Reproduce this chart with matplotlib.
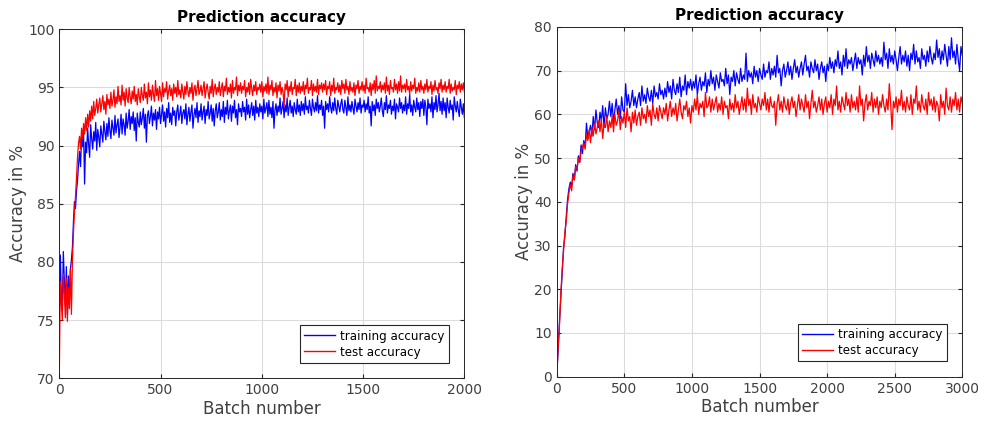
import numpy as np
import matplotlib
matplotlib.use("Agg")
import matplotlib.pyplot as plt

# left run: one value every 5 batches (0..2000)
left_step = 5
left_train = [
    75.0, 80.6, 77.2, 75.8, 80.9, 78.4, 76.3, 79.6, 75.5, 78.8, 76.6, 79.4, 80.2, 81.3, 83.5, 85.2, 84.6, 86.1, 87.0, 88.4,
    89.5, 88.2, 90.8, 89.9, 91.1, 86.7, 90.3, 89.4, 91.5, 90.1, 89.0, 91.8, 90.6, 89.7, 91.2, 90.4, 92.0, 89.6, 91.4, 90.7,
    89.9, 91.7, 91.0, 90.3, 92.1, 91.2, 90.5, 91.9, 90.8, 92.4, 91.3, 90.6, 92.2, 91.5, 90.9, 92.6, 91.1, 91.8, 92.3, 90.7,
    91.6, 92.7, 91.0, 92.3, 91.8, 90.9, 92.8, 91.5, 92.1, 93.1, 91.4, 92.5, 91.9, 92.9, 91.3, 92.4, 90.4, 92.8, 92.0, 91.6,
    92.9, 91.8, 92.4, 93.2, 91.5, 92.7, 90.3, 92.6, 93.0, 91.9, 92.5, 93.4, 91.7, 92.8, 92.2, 93.1, 91.4, 92.9, 92.3, 93.3,
    91.9, 92.7, 93.5, 92.1, 92.9, 91.6, 93.2, 92.4, 93.7, 92.0, 92.8, 91.8, 93.3, 92.6, 93.0, 91.7, 92.9, 93.5, 92.2, 92.7,
    93.4, 91.9, 92.8, 93.1, 92.3, 93.6, 91.8, 92.7, 93.3, 92.1, 92.9, 93.5, 91.5, 92.6, 93.2, 92.4, 93.7, 92.0, 93.0, 92.5,
    93.6, 92.2, 92.9, 93.4, 91.9, 93.1, 92.6, 93.8, 92.3, 92.8, 93.5, 92.1, 93.2, 91.7, 93.0, 93.6, 92.4, 92.9, 93.7, 92.2,
    93.1, 92.5, 93.8, 92.0, 93.3, 92.7, 93.9, 92.3, 93.0, 93.5, 92.1, 93.4, 92.8, 93.9, 92.4, 93.1, 91.8, 93.6, 92.9, 93.2,
    92.5, 93.8, 92.9, 93.3, 92.2, 94.0, 92.7, 93.5, 92.4, 93.1, 93.7, 92.6, 93.4, 92.2, 93.9, 92.8, 93.3, 92.5, 93.6, 92.9,
    93.4, 92.3, 94.0, 92.8, 93.2, 93.7, 92.5, 93.9, 92.7, 93.3, 92.4, 93.8, 91.5, 93.1, 93.6, 92.6, 93.4, 92.9, 94.1, 92.7,
    93.2, 93.8, 92.4, 93.5, 92.9, 94.1, 92.6, 93.3, 93.9, 92.8, 93.4, 92.5, 93.7, 93.1, 92.7, 94.0, 92.9, 93.5, 92.6, 93.8,
    93.0, 93.6, 92.7, 94.2, 93.1, 93.4, 92.8, 93.9, 93.2, 92.6, 94.0, 93.3, 92.9, 93.7, 93.0, 94.3, 92.8, 93.5, 93.1, 93.9,
    92.6, 93.4, 91.5, 93.8, 93.1, 93.6, 92.9, 94.2, 93.3, 92.8, 93.7, 93.0, 94.1, 93.2, 92.7, 93.9, 93.4, 92.9, 93.6, 94.0,
    93.1, 92.8, 93.9, 93.3, 92.6, 94.2, 93.0, 93.5, 92.9, 93.8, 93.2, 92.7, 94.0, 93.4, 92.9, 93.7, 93.1, 94.1, 92.8, 93.5,
    93.3, 93.9, 92.9, 93.6, 93.1, 94.2, 92.8, 93.4, 91.7, 93.8, 93.0, 93.5, 92.6, 94.0, 93.2, 93.7, 92.9, 93.4, 94.1, 93.0,
    92.5, 93.7, 93.1, 94.3, 92.8, 93.5, 93.2, 93.9, 92.7, 93.4, 93.0, 94.0, 92.3, 93.6, 93.3, 92.9, 94.1, 93.2, 93.7, 92.8,
    93.5, 93.0, 94.2, 92.7, 93.6, 93.2, 94.4, 92.9, 93.5, 92.6, 93.9, 93.3, 92.9, 94.1, 93.1, 93.7, 92.5, 93.8, 93.2, 94.0,
    92.6, 93.9, 93.3, 91.8, 94.0, 93.2, 93.6, 92.9, 94.2, 92.4, 93.7, 93.1, 94.3, 92.9, 93.5, 94.5, 93.0, 93.8, 92.7, 94.1,
    93.0, 93.7, 92.4, 94.1, 93.3, 92.8, 93.9, 93.1, 93.5, 92.2, 94.2, 93.4, 92.9, 93.8, 93.1, 92.5, 94.0, 93.3, 92.7, 93.6,
    92.4,
]
left_test = [
    70.0, 78.3, 76.5, 75.0, 79.0, 77.3, 75.2, 78.6, 74.9, 77.8, 76.0, 79.4, 75.5, 80.2, 82.5, 84.3, 85.6, 87.2, 89.0, 90.2,
    90.8, 89.7, 91.5, 90.6, 91.9, 91.0, 92.4, 91.3, 92.7, 91.6, 93.0, 92.1, 93.4, 92.3, 93.8, 92.6, 93.2, 94.0, 92.8, 93.5,
    94.1, 92.9, 93.6, 94.3, 93.1, 93.8, 92.7, 94.4, 93.5, 94.0, 93.2, 94.6, 93.4, 93.9, 94.8, 93.3, 94.2, 93.6, 95.1, 93.8,
    94.3, 93.5, 95.2, 93.9, 94.6, 93.4, 94.9, 94.1, 93.7, 95.0, 94.2, 93.6, 94.7, 94.0, 95.1, 93.8, 94.4, 93.5, 94.9, 94.2,
    93.7, 95.0, 94.3, 93.9, 95.3, 94.1, 94.6, 93.6, 95.4, 94.2, 94.8, 93.9, 95.2, 94.4, 93.8, 95.6, 94.3, 94.9, 93.9, 95.1,
    94.5, 93.8, 95.4, 94.2, 94.9, 94.6, 95.5, 94.0, 94.7, 95.2, 94.3, 94.9, 93.9, 95.3, 94.5, 95.0, 94.2, 95.6, 94.4, 94.8,
    94.1, 95.3, 94.6, 94.0, 95.1, 94.4, 95.5, 94.7, 94.2, 95.0, 94.5, 95.4, 93.9, 94.8, 95.2, 94.3, 94.9, 95.6, 94.4, 94.7,
    95.2, 94.3, 94.9, 95.5, 94.1, 94.8, 95.3, 94.6, 94.0, 95.1, 94.5, 95.7, 94.2, 94.9, 95.3, 94.4, 95.0, 94.6, 95.5, 94.3,
    94.9, 95.4, 94.2, 95.1, 94.7, 95.8, 94.4, 95.0, 94.6, 95.3, 94.1, 95.6, 94.5, 95.0, 94.8, 95.9, 94.3, 95.2, 94.7, 95.4,
    94.5, 95.1, 94.8, 95.6, 94.2, 95.0, 94.6, 95.4, 94.4, 95.7, 94.9, 94.3, 95.2, 94.7, 95.5, 94.4, 95.0, 94.8, 95.3, 94.6,
    95.5, 94.2, 95.1, 94.7, 95.3, 94.5, 95.9, 94.4, 95.2, 94.8, 95.6, 94.3, 95.0, 94.6, 95.4, 94.1, 95.2, 94.7, 95.5, 94.4,
    95.0, 94.6, 93.4, 95.3, 94.8, 95.6, 94.2, 95.1, 94.7, 95.5, 94.4, 95.0, 94.9, 95.7, 94.3, 95.2, 94.6, 95.4, 94.5, 95.1,
    94.7, 95.5, 94.4, 95.2, 94.9, 95.8, 94.5, 95.0, 94.8, 95.6, 94.3, 95.3, 94.7, 95.1, 94.6, 95.7, 94.4, 95.2, 94.9, 95.4,
    94.6, 95.3, 94.8, 95.6, 94.4, 95.1, 94.9, 95.5, 94.3, 95.2, 94.7, 95.8, 94.5, 95.0, 94.8, 95.4, 94.6, 95.2, 94.4, 95.6,
    94.9, 95.3, 94.5, 95.7, 94.8, 95.1, 94.4, 95.5, 94.7, 95.0, 94.6, 95.4, 94.3, 95.2, 94.9, 95.6, 94.5, 95.1, 94.8, 95.5,
    94.7, 95.2, 94.5, 95.8, 94.9, 95.0, 94.6, 95.4, 94.3, 95.3, 94.8, 95.6, 94.5, 96.0, 94.7, 95.1, 94.9, 95.5, 94.6, 95.2,
    94.8, 95.4, 94.5, 95.9, 94.7, 95.2, 94.4, 95.6, 94.9, 95.0, 94.6, 95.7, 94.8, 95.3, 94.5, 95.5, 94.7, 96.0, 94.6, 95.2,
    94.9, 95.3, 94.6, 95.7, 94.8, 95.1, 94.4, 95.5, 94.7, 95.2, 94.9, 95.8, 94.5, 95.0, 94.7, 95.4, 94.6, 95.6, 94.8, 95.1,
    94.5, 95.3, 94.8, 95.7, 94.6, 95.1, 94.9, 95.5, 94.4, 95.2, 94.7, 95.6, 94.8, 95.0, 94.5, 95.4, 94.9, 95.7, 94.6, 95.2,
    94.8, 95.5, 94.6, 95.1, 94.9, 95.7, 94.5, 95.3, 94.7, 95.0, 94.8, 95.6, 94.4, 95.2, 94.9, 95.5, 94.6, 95.3, 94.8, 95.4,
    94.6,
]

# right run: one value every 10 batches (0..3000)
right_step = 10
right_train = [
    0.0, 6.0, 12.5, 18.0, 23.5, 29.5, 32.0, 36.5, 40.5, 43.0, 44.5, 43.5, 46.5, 45.0, 48.5, 47.0, 50.5, 49.0, 53.0, 51.0,
    54.0, 52.5, 58.0, 54.5, 56.0, 57.5, 55.0, 59.5, 56.5, 61.0, 58.0, 57.0, 60.5, 58.5, 62.0, 57.0, 61.5, 59.0, 60.0, 63.0,
    59.5, 62.5, 58.0, 61.0, 63.5, 60.0, 62.0, 59.0, 64.0, 61.0, 60.5, 67.0, 62.0, 64.5, 61.5, 63.0, 65.5, 62.0, 64.0, 61.5,
    63.5, 65.0, 62.0, 66.5, 63.0, 64.5, 62.5, 66.0, 64.0, 63.0, 65.5, 62.5, 66.5, 64.0, 65.0, 63.5, 67.0, 64.5, 65.5, 63.5,
    66.0, 64.0, 67.5, 65.0, 66.5, 63.5, 68.0, 65.5, 64.5, 67.0, 65.0, 68.5, 64.0, 66.5, 65.5, 69.0, 64.5, 67.5, 66.0, 68.0,
    65.5, 67.5, 66.0, 69.0, 64.5, 67.0, 68.5, 65.5, 67.5, 66.5, 69.5, 65.0, 68.0, 66.5, 70.0, 67.0, 68.5, 65.5, 69.0, 67.5,
    66.0, 69.5, 67.5, 68.0, 66.5, 70.5, 67.0, 69.0, 64.5, 68.5, 67.5, 70.0, 66.5, 69.5, 68.0, 67.0, 70.5, 67.5, 69.0, 68.0,
    74.0, 67.5, 70.0, 68.5, 69.5, 67.0, 71.0, 68.5, 70.0, 67.5, 70.5, 69.0, 68.0, 71.5, 68.5, 70.0, 69.5, 72.0, 68.0, 70.5,
    69.0, 71.0, 68.5, 73.5, 69.5, 70.5, 66.5, 70.0, 71.5, 68.5, 70.0, 72.0, 69.0, 71.0, 68.0, 70.5, 72.5, 69.5, 71.0, 68.5,
    70.5, 72.0, 69.0, 71.5, 73.5, 70.0, 71.0, 68.5, 72.0, 70.5, 69.5, 72.5, 70.0, 71.5, 68.0, 70.5, 72.0, 69.5, 71.0, 67.5,
    71.5, 70.0, 73.0, 70.5, 72.0, 69.5, 72.5, 71.0, 74.5, 70.5, 72.0, 69.0, 73.5, 71.0, 75.0, 70.5, 72.5, 71.5, 73.0, 70.0,
    72.0, 74.0, 70.5, 73.0, 71.5, 72.5, 69.0, 73.5, 71.0, 75.5, 72.0, 73.5, 70.5, 74.0, 72.5, 71.0, 74.5, 72.0, 73.5, 71.5,
    73.0, 71.0, 76.5, 72.5, 74.0, 70.5, 75.0, 72.0, 73.5, 71.5, 74.5, 72.5, 70.0, 73.0, 75.5, 71.5, 73.5, 72.0, 74.5, 71.0,
    73.5, 70.0, 74.0, 72.5, 76.0, 71.5, 74.5, 72.0, 73.0, 70.5, 75.0, 72.5, 73.5, 71.0, 74.5, 72.0, 75.5, 73.0, 71.5, 74.0,
    72.5, 77.0, 73.0, 75.0, 71.5, 74.5, 72.5, 76.0, 73.5, 71.0, 75.5, 72.5, 77.5, 73.0, 74.5, 71.5, 76.0, 72.5, 70.0, 75.5,
    73.5,
]
right_test = [
    0.0, 6.5, 11.5, 19.0, 24.5, 28.5, 33.0, 35.5, 39.5, 42.0, 44.0, 42.5, 46.0, 45.0, 48.0, 47.5, 50.0, 49.0, 51.5, 52.5,
    53.5, 52.0, 55.5, 54.0, 56.5, 53.5, 57.0, 55.0, 58.0, 55.5, 57.0, 58.5, 56.0, 59.0, 54.5, 58.0, 57.0, 59.5, 56.0, 58.5,
    57.0, 59.5, 56.0, 60.0, 57.5, 58.5, 61.0, 56.5, 59.5, 58.0, 60.5, 57.0, 61.5, 58.5, 59.5, 56.0, 60.5, 58.0, 61.0, 57.5,
    59.5, 60.5, 57.5, 61.5, 59.0, 60.0, 58.0, 62.0, 59.5, 61.0, 57.5, 62.5, 60.0, 59.0, 61.5, 58.5, 62.0, 60.5, 59.0, 61.5,
    60.0, 62.5, 58.5, 61.0, 63.0, 59.5, 61.5, 60.0, 62.5, 58.5, 61.0, 63.5, 60.5, 59.0, 62.0, 61.0, 63.0, 59.5, 61.5, 58.0,
    62.0, 60.5, 63.5, 61.0, 64.5, 60.0, 62.5, 61.5, 63.0, 59.5, 65.0, 61.5, 62.0, 64.0, 60.5, 63.5, 61.0, 62.5, 64.0, 60.5,
    62.5, 61.0, 64.0, 60.0, 63.0, 61.5, 62.0, 59.0, 63.5, 61.0, 62.5, 60.5, 64.5, 61.5, 63.0, 60.0, 62.0, 64.0, 61.0, 63.5,
    60.5, 66.0, 62.0, 63.5, 60.0, 64.5, 61.5, 62.5, 60.5, 64.0, 62.5, 61.0, 63.5, 62.0, 65.0, 61.0, 63.5, 60.5, 64.0, 62.0,
    61.5, 63.0, 57.5, 62.5, 64.5, 61.0, 63.0, 60.5, 64.0, 62.0, 61.0, 63.5, 60.0, 62.5, 64.0, 61.5, 63.0, 59.5, 62.0, 64.5,
    61.0, 63.5, 62.0, 60.5, 64.5, 61.5, 63.0, 59.0, 62.5, 65.5, 61.5, 63.0, 60.5, 62.0, 64.0, 61.0, 63.5, 60.0, 62.5, 64.0,
    60.5, 63.0, 61.5, 64.5, 60.0, 63.5, 62.0, 66.5, 61.0, 63.0, 60.5, 64.0, 62.5, 61.0, 65.0, 62.0, 63.5, 60.5, 64.5, 61.5,
    63.0, 61.0, 64.0, 60.5, 66.5, 62.0, 63.5, 58.5, 62.5, 64.5, 61.0, 63.0, 62.0, 65.0, 60.5, 63.5, 61.5, 64.0, 60.0, 63.0,
    61.5, 64.5, 62.0, 60.5, 63.5, 61.0, 67.0, 62.5, 56.5, 63.0, 61.5, 64.0, 60.5, 63.5, 62.0, 65.5, 61.0, 63.0, 60.5, 64.0,
    62.0, 61.0, 64.5, 60.0, 63.5, 62.5, 66.5, 61.0, 63.0, 60.5, 64.5, 62.0, 61.0, 63.5, 60.0, 65.0, 62.0, 63.5, 61.0, 64.0,
    60.5, 63.0, 62.0, 58.5, 64.5, 61.5, 63.0, 60.0, 66.0, 62.0, 61.0, 64.0, 60.5, 63.5, 62.0, 65.0, 61.0, 63.5, 60.5, 64.0,
    62.5,
]

plt.rcParams['font.family'] = 'DejaVu Sans'
fig = plt.figure(figsize=(9.88, 4.22), dpi=100)

panels = [
    ([0.0600, 0.1035, 0.4100, 0.8270], left_step, left_train, left_test,
     (0, 2000), (70, 100), np.arange(0, 2001, 500), np.arange(70, 101, 5)),
    ([0.5635, 0.1073, 0.4105, 0.8290], right_step, right_train, right_test,
     (0, 3000), (0, 80), np.arange(0, 3001, 500), np.arange(0, 81, 10)),
]

dark = '#262626'
for rect, step, train, test, xl, yl, xt, yt in panels:
    ax = fig.add_axes(rect)
    xs = np.arange(len(train)) * step
    ax.plot(xs, train, color='#0000ff', lw=0.9, label='training accuracy')
    ax.plot(xs, test, color='#ff0000', lw=0.9, label='test accuracy')
    ax.set_xlim(*xl)
    ax.set_ylim(*yl)
    ax.set_xticks(xt)
    ax.set_yticks(yt)
    ax.grid(True, color='#dcdcdc', lw=0.8)
    ax.set_axisbelow(True)
    ax.tick_params(direction='in', length=3, top=True, right=True,
                   labelsize=10, colors=dark, labelcolor='#404040')
    for s in ax.spines.values():
        s.set_color(dark)
        s.set_linewidth(0.7)
    ax.set_title('Prediction accuracy', fontsize=11, fontweight='bold', pad=5)
    ax.set_xlabel('Batch number', fontsize=12, color='#404040', labelpad=2)
    ax.set_ylabel('Accuracy in %', fontsize=12, color='#404040', labelpad=1)
    leg = ax.legend(loc='lower right', prop={'size': 8.6}, fancybox=False,
                    framealpha=1, edgecolor=dark, handlelength=2.6,
                    handletextpad=0.4, borderpad=0.35, labelspacing=0.25,
                    borderaxespad=1.3)
    leg.get_frame().set_linewidth(0.8)
    for h in leg.get_lines():
        h.set_linewidth(1.0)

fig.savefig('out.png', dpi=100)
